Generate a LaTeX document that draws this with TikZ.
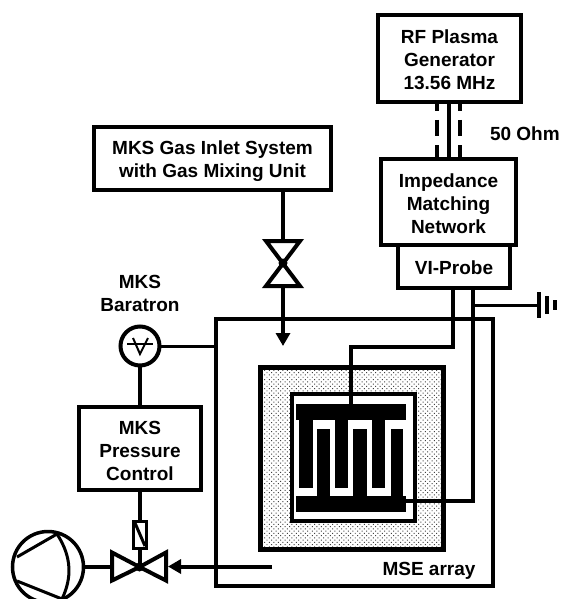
\documentclass[tikz,border=0pt]{standalone}
\usepackage{fontspec}
\setmainfont{Liberation Sans}
\usetikzlibrary{arrows.meta,patterns.meta}
\tikzset{
  box/.style={draw=black,line width=4pt,fill=white,inner sep=0pt,outer sep=0pt},
  lbl/.style={inner sep=0pt,outer sep=0pt,align=center,font=\fontsize{19}{23}\selectfont\bfseries},
  wire/.style={draw=black,line width=4pt},
  thin wire/.style={draw=black,line width=3pt},
  sym/.style={draw=black,line width=4pt,line join=miter},
  arrowed/.style={wire,-{Triangle[length=13pt,width=14pt]}},
  pad/.style={fill=black,draw=none},
}
\begin{document}
\begin{tikzpicture}[x=1pt,y=-1pt]
\useasboundingbox (0,0) rectangle (560,599);
\clip (0,0) rectangle (560,599);
% reference points
\coordinate (v1) at (283,263);
\coordinate (v2) at (139.5,567);
\coordinate (tip1) at (283,346);
\coordinate (pumpc) at (48,567);
\coordinate (gnd) at (539,305);
\coordinate (arrowstart) at (272,566.5);
\coordinate (via1) at (351,347);
\coordinate (via2) at (473,501);
\coordinate (out1) at (453,288);
\coordinate (out2) at (473,288);
% chamber
\node[box,minimum width=277pt,minimum height=267pt] (chamber) at (354.5,452.5) {};
\node[lbl,anchor=base] (mse) at (429,575.5) {MSE array};
% MSE substrate
\filldraw[draw=none,fill=white] (260.5,367.5) rectangle (443.5,549.5);
\fill[pattern={Dots[distance=3.2pt,radius=.7pt,angle=45,xshift=0pt]},pattern color=black!75] (260.5,367.5) rectangle (443.5,549.5);
\draw[line width=4.7pt] (260.5,367.5) rectangle (443.5,549.5);
\node[draw=black,line width=4pt,fill=white,inner sep=0pt,outer sep=0pt,minimum width=123pt,minimum height=127pt] (inner) at (353.5,457.5) {};
% electrodes
\node[pad,inner sep=0pt,outer sep=0pt,minimum width=110pt,minimum height=16pt] (topbar) at (351,412) {};
\node[pad,inner sep=0pt,outer sep=0pt,minimum width=110pt,minimum height=16pt] (botbar) at (351,504) {};
\fill (299,420) rectangle (313,488);
\fill (335,420) rectangle (348,488);
\fill (372,420) rectangle (385,488);
\fill (317,429) rectangle (330,496);
\fill (353,429) rectangle (367,496);
\fill (391,429) rectangle (403,496);
% top instruments
\node[box,minimum width=143pt,minimum height=87pt] (rf) at (449.5,58.5) {};
\node[lbl] (rflabel) at (449.5,60) {RF Plasma\\Generator\\13.56 MHz};
\node[box,minimum width=112pt,minimum height=43pt] (vi) at (454,266.5) {};
\node[lbl] (vilabel) at (454,268) {VI-Probe};
\node[box,minimum width=135pt,minimum height=86pt] (imp) at (448.5,202) {};
\node[lbl] (implabel) at (448.5,204) {Impedance\\Matching\\Network};
\node[box,minimum width=237pt,minimum height=63pt] (gas) at (212.5,158.5) {};
\node[lbl] (gaslabel) at (212.5,161.5) {MKS Gas Inlet System\\with Gas Mixing Unit};
\node[lbl,anchor=west] (ohm) at (490,134) {50 Ohm};
\node[lbl] (bar) at (140,293.5) {MKS\\Baratron};
\node[box,minimum width=122pt,minimum height=83pt] (pc) at (140,448.5) {};
\node[lbl] (pclabel) at (140,451) {MKS\\Pressure\\Control};
% coax
\draw[line width=4pt] (rf.south -| 449,0) -- (imp.north -| 449,0);
\draw[line width=3.5pt,dash pattern=on 16pt off 9pt,dash phase=7pt] (rf.south -| 437,0) -- (imp.north -| 437,0);
\draw[line width=3.5pt,dash pattern=on 16pt off 9pt,dash phase=7pt] (rf.south -| 460,0) -- (imp.north -| 460,0);
% wires to electrodes
\draw[wire,line join=miter] (out1) |- (via1) -- (via1 |- topbar.north);
\draw[wire,line join=miter] (out2) |- (via2) -- (via2 -| botbar.east);
% ground
\draw[thin wire] (out2 |- gnd) -- (gnd);
\draw[line width=3.5pt] (539,292) -- (539,318);
\draw[line width=3.5pt] (547,296) -- (547,314);
\draw[line width=4.5pt] (555,300) -- (555,310);
% inlet valve
\draw[wire] (gas.south -| v1) -- (283,241);
\draw[sym] (266,241) -- (300,241) -- (266,286) -- (300,286) -- cycle;
\fill (v1) circle (4.5pt);
\draw[arrowed] (283,286) -- (tip1);
% baratron
\node[draw=black,line width=4pt,fill=white,circle,inner sep=0pt,outer sep=0pt,minimum size=39pt] (bt) at (140,346) {};
\draw[line width=2.5pt] (127,344) -- (153,344);
\draw[line width=2pt,line join=miter] (133,338) -- (140,354) -- (148,338);
\draw[thin wire] (bt.east) -- (chamber.west |- bt);
\draw[wire] (bt.south) -- (bt.south |- pc.north);
% control valve
\draw[wire] (pc.south -| v2) -- (v2);
\node[draw=black,line width=3pt,fill=white,inner sep=0pt,outer sep=0pt,minimum width=13pt,minimum height=27pt] (act) at (v2 |- 0,534.5) {};
\draw[line width=3pt] (135,523) -- (145,546);
\draw[sym] (v2) -- (112,552.5) -- (112,580.5) -- cycle;
\draw[sym] (v2) -- (166,552.5) -- (166,580.5) -- cycle;
\fill (v2) circle (4.5pt);
\draw[arrowed] (arrowstart) -- (168,566.5);
% pump
\node[draw=black,line width=3.5pt,circle,inner sep=0pt,outer sep=0pt,minimum size=71pt] (pump) at (pumpc) {};
\draw[wire] (pump.east) -- (112,567);
\draw[line width=3pt,line join=miter] (17,557) -- (57,534) .. controls (72,557) and (72,578) .. (62,599) -- (17,581);
\end{tikzpicture}
\end{document}
